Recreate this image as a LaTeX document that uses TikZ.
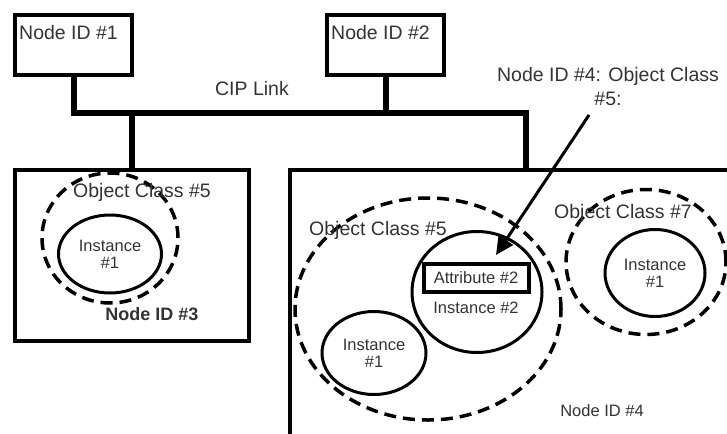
\documentclass[tikz,border=0pt]{standalone}
\usepackage{fontspec}
\setmainfont{Liberation Sans}
\usepackage{tikz}
\usetikzlibrary{shapes.geometric}
\usetikzlibrary{arrows.meta}

\begin{document}
\begin{tikzpicture} [
    x=1pt, y=-1pt,
    every node/.style = {inner sep=0pt, text=black!80, font=\fontsize{19.5}{24}\selectfont},
    hostbox/.style = {rectangle, draw=black, line width=4pt, anchor=north west},
    bus/.style = {line width=6pt, line join=miter},
    classring/.style = {ellipse, draw=black, line width=3.5pt, dash pattern=on 12pt off 7pt},
    instring/.style = {ellipse, draw=black, line width=3pt, align=center, font=\fontsize{16.5}{17}\selectfont},
    attrbox/.style = {rectangle, draw=black, line width=4pt, font=\fontsize{16.5}{17}\selectfont},
    smalltxt/.style = {font=\fontsize{16.5}{17}\selectfont},
    pointer/.style = {line width=3pt, -{Triangle[length=18pt,width=17pt]}}
]
    \clip (0,0) rectangle (727,433);

    % devices on the link
    \node [hostbox, minimum width=117pt, minimum height=60pt] (id1) at (13,13) {};
    \node [anchor=west] (id1lbl) at (19,33) {Node ID \#1};
    \node [hostbox, minimum width=117pt, minimum height=60pt] (id2) at (325,13) {};
    \node [anchor=west] (id2lbl) at (331,33) {Node ID \#2};
    \node [hostbox, minimum width=234pt, minimum height=171pt] (id3) at (13,168) {};
    \node [hostbox, minimum width=480pt, minimum height=300pt] (id4) at (288,168) {};

    \draw[bus] (id1.south) |- (526,113) coordinate (busR) -- (busR |- id4.north);
    \draw[bus] (id2.south) -- (id2.south |- busR);
    \draw[bus] (id3.north) -- (id3.north |- busR);
    \node (ciplbl) at (252,89) {CIP Link};

    % node 3
    \node [classring, minimum width=136pt, minimum height=130pt] (oc5a) at (110,238) {};
    \node [instring, minimum width=103pt, minimum height=78pt] (inst1a) at (110,254) {Instance\\\#1};
    \node (oc5albl) at (142,192) {Object Class \#5};
    \node [font=\bfseries\fontsize{18}{20}\selectfont] (id3lbl) at (152,314) {Node ID \#3};

    % node 4
    \node [classring, minimum width=266pt, minimum height=222pt] (oc5b) at (428,309) {};
    \node (oc5blbl) at (378,230) {Object Class \#5};
    \node [instring, minimum width=130pt, minimum height=121pt] (inst2) at (477,292) {};
    \node [attrbox, minimum width=105pt, minimum height=28pt] (attr) at (476,278) {Attribute \#2};
    \node [smalltxt] (inst2lbl) at (476,308) {Instance \#2};
    \node [instring, minimum width=104pt, minimum height=83pt] (inst1b) at (374,353) {Instance\\\#1};
    \node [classring, minimum width=160pt, minimum height=145pt] (oc7) at (646,262) {};
    \node (oc7lbl) at (623,213) {Object Class \#7};
    \node [instring, minimum width=100pt, minimum height=87pt] (inst1c) at (655,273) {Instance\\\#1};
    \node [smalltxt] (id4lbl) at (602,411) {Node ID \#4};

    \node [align=center] (callout) at (608,87) {Node ID \#4: Object Class\\\#5:};
    \coordinate (tail) at (589,115);
    \coordinate (tip) at (496,255);
    \draw[pointer] (tail) -- (tip);
\end{tikzpicture}
\end{document}
